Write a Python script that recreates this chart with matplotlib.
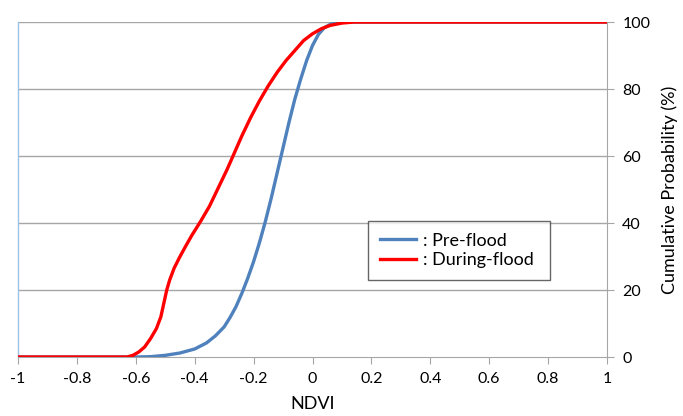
import matplotlib.pyplot as plt
import numpy as np

# cumulative distribution (NDVI, %)
pre_ndvi = [-1.0, -0.6, -0.55, -0.5, -0.45, -0.4, -0.36, -0.33, -0.3, -0.28, -0.26, -0.24,
            -0.22, -0.2, -0.18, -0.16, -0.14, -0.12, -0.1, -0.08, -0.06, -0.04,
            -0.02, 0.0, 0.02, 0.04, 0.06, 0.08, 0.1, 1.0]
pre_cum = [0, 0, 0.1, 0.5, 1.2, 2.4, 4.2, 6.3, 9, 11.8, 15, 19,
           23.5, 28.5, 34.2, 40.5, 47.5, 55, 62.5, 70, 77, 83,
           88.5, 93, 96.3, 98.3, 99.3, 99.8, 100, 100]

during_ndvi = [-1.0, -0.63, -0.61, -0.59, -0.57, -0.55, -0.53, -0.515, -0.505, -0.495,
               -0.485, -0.47, -0.45, -0.43, -0.41, -0.38, -0.35, -0.32, -0.29, -0.27, -0.24,
               -0.21, -0.18, -0.15, -0.12, -0.09, -0.06, -0.03, 0.0, 0.03, 0.06,
               0.1, 0.14, 1.0]
during_cum = [0, 0, 0.5, 1.5, 3, 5.5, 8.5, 12, 16, 20,
              23, 26.5, 30, 33.2, 36.3, 40.5, 45, 50.5, 56, 60, 66,
              71.5, 76.5, 81, 85, 88.5, 91.5, 94.5, 96.5, 98, 99,
              99.7, 100, 100]

x_ticks = [-1, -0.8, -0.6, -0.4, -0.2, 0, 0.2, 0.4, 0.6, 0.8, 1]
x_labels = ['-1', '-0.8', '-0.6', '-0.4', '-0.2', '0', '0.2', '0.4', '0.6', '0.8', '1']
y_ticks = [0, 20, 40, 60, 80, 100]

plt.rcParams['font.family'] = ['Lato', 'DejaVu Sans']

fig = plt.figure(figsize=(6.83, 4.16), dpi=100)
ax = fig.add_axes([0.0264, 0.1418, 0.8623, 0.8052])

grid_col = '#a6a6a6'
for y in y_ticks[1:]:
    ax.axhline(y, color=grid_col, lw=1.0, zorder=1)

ax.plot(pre_ndvi, pre_cum, color='#4f81bd', lw=2.4, label=': Pre-flood', zorder=3)
ax.plot(during_ndvi, during_cum, color='#ff0000', lw=2.4, label=': During-flood', zorder=4)

ax.set_xlim(-1, 1)
ax.set_ylim(0, 100)
ax.set_xticks(x_ticks)
ax.set_xticklabels(x_labels, fontsize=11.5)
ax.set_yticks(y_ticks)
ax.yaxis.tick_right()
ax.yaxis.set_label_position('right')
ax.tick_params(axis='y', labelsize=11.5, length=5, color=grid_col, pad=6)
ax.tick_params(axis='x', length=5, color=grid_col, pad=6)

ax.spines['top'].set_visible(False)
ax.spines['left'].set_color('#9dc3e6')
ax.spines['left'].set_linewidth(1.0)
ax.spines['right'].set_color(grid_col)
ax.spines['bottom'].set_color(grid_col)

ax.set_xlabel('NDVI', fontsize=13, labelpad=7)
ax.set_ylabel('Cumulative Probability (%)', fontsize=13, labelpad=8)

leg = ax.legend(loc='lower left', bbox_to_anchor=(0.594, 0.23, 0.31, 0.17), mode='expand',
                borderaxespad=0, fontsize=13, frameon=True, fancybox=False,
                handlelength=2.0, handletextpad=0.4, borderpad=0.65, labelspacing=0.2)
leg.get_frame().set_edgecolor('#404040')
leg.get_frame().set_linewidth(1.0)

fig.savefig('out.png', dpi=100)
